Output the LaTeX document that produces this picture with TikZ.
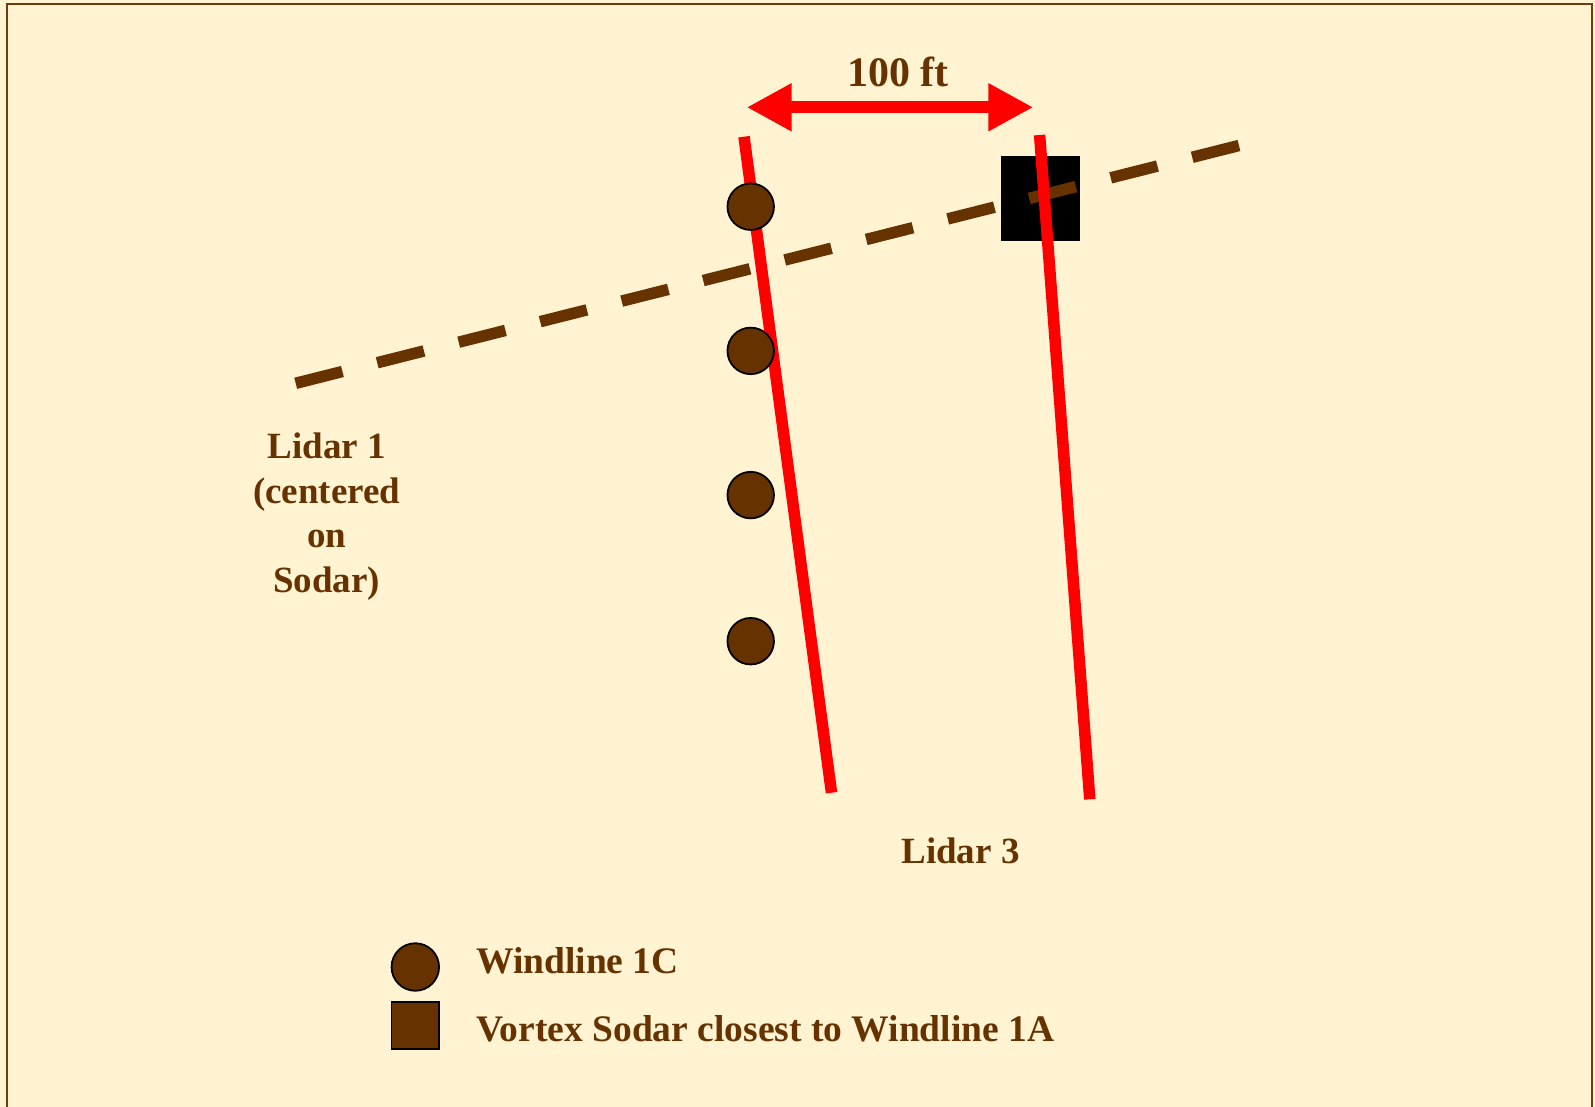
\documentclass[tikz,border=0pt]{standalone}
\usepackage{fontspec}
\setmainfont{Liberation Serif}
\usetikzlibrary{arrows.meta}
\definecolor{bgcream}{RGB}{255,243,210}
\definecolor{brownish}{RGB}{102,51,0}
\definecolor{framebrown}{RGB}{110,60,10}
\begin{document}
\begin{tikzpicture}[x=1pt,y=-1pt,
  lbl/.style={text=brownish, font=\bfseries\fontsize{37}{44.8}\selectfont, inner sep=0pt, anchor=base},
  redline/.style={draw=red, line width=11.5pt},
  sensor/.style={circle, fill=brownish, draw=black, line width=1.8pt, minimum size=46.5pt, inner sep=0pt},
  sodarbox/.style={fill=black, minimum width=79pt, minimum height=85pt, inner sep=0pt},
  trackline/.style={draw=brownish, line width=11.5pt, dash pattern=on 48.2pt off 35.85pt},
  distarrow/.style={draw=red, fill=red, line width=12pt, {Triangle[length=45pt,width=45pt]}-{Triangle[length=45pt,width=45pt]}}
]
\fill[bgcream] (0,0) rectangle (1595,1107);
\useasboundingbox (0,0) rectangle (1595,1107);
\draw[framebrown, line width=2pt] (7,1115) -- (7,4.2) -- (1591.7,4.2) -- (1591.7,1115);

% sodar square
\node[sodarbox] (sodar) at (1040.5,198.3) {};

% lidar 1 track (dashed)
\coordinate (d1) at (295.7,383.3);
\coordinate (d2) at (1239,145.5);
\draw[trackline] (d1) -- (d2);

% red lines
\coordinate (l1a) at (744,136.7);
\coordinate (l1b) at (831.5,792.7);
\coordinate (l3a) at (1039.6,135);
\coordinate (l3b) at (1089.8,799.3);
\draw[redline] (l1a) -- (l1b);
\draw[redline] (l3a) -- (l3b);

% windline sensors
\node[sensor] (c1) at (750.7,206.7) {};
\node[sensor] (c2) at (750.7,350.9) {};
\node[sensor] (c3) at (750.7,495.1) {};
\node[sensor] (c4) at (750.7,641.2) {};

% distance arrow
\coordinate (a1) at (746.7,107.3);
\coordinate (a2) at (1033.3,107.3);
\draw[distarrow] (a1) -- (a2);
\node[lbl, font=\bfseries\fontsize{42}{50}\selectfont] (dist) at (898,86.7) {100 ft};

% labels
\node[lbl, align=center] (lidar1) at (326.7,592.7) {Lidar 1\\(centered\\on\\Sodar)};
\node[lbl] (lidar3) at (960.5,863.3) {Lidar 3};

% legend
\node[sensor, minimum size=47.5pt] (legc) at (415.3,967) {};
\node[fill=brownish, draw=black, line width=1.8pt, minimum size=47.5pt, inner sep=0pt] (legs) at (415.3,1025.5) {};
\node[lbl, anchor=base west, font=\bfseries\fontsize{37.5}{44.8}\selectfont] (legct) at (476,973.3) {Windline 1C};
\node[lbl, anchor=base west, font=\bfseries\fontsize{37.5}{44.8}\selectfont] (legst) at (476,1041.7) {Vortex Sodar closest to Windline 1A};
\end{tikzpicture}
\end{document}
